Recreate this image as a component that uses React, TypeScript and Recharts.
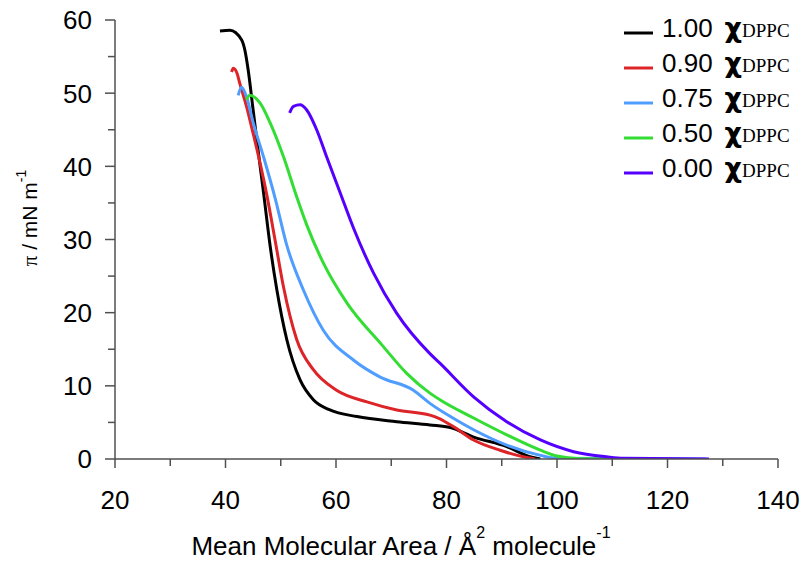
import { LineChart, Line, XAxis, YAxis, Legend } from "recharts";

// pressure-area isotherms
const area100 = [39.0, 40.8, 42.9, 43.5, 44.1, 45.0, 45.9, 46.9, 48.1, 49.3, 51.1, 53.5, 55.9, 58.9, 63.8, 71.0, 77.0, 80.7, 84.9, 90.9, 95.1, 97.0];
const pi100 = [58.5, 58.6, 57.3, 55.9, 53.2, 47.7, 42.2, 36.3, 29.0, 23.1, 16.3, 10.8, 8.1, 6.7, 5.8, 5.1, 4.65, 4.3, 3.0, 1.7, 0.3, 0.0];

const area90 = [41.1, 41.4, 42.1, 42.6, 43.8, 45.0, 46.3, 47.5, 49.0, 50.5, 52.9, 55.9, 60.1, 65.6, 71.0, 77.0, 78.5, 81.3, 84.9, 89.7, 93.9, 96.0];
const pi90 = [52.9, 53.4, 52.7, 51.3, 48.2, 44.5, 40.3, 36.0, 29.8, 23.5, 16.3, 12.2, 9.4, 7.8, 6.7, 6.0, 5.6, 4.4, 2.6, 1.2, 0.3, 0.0];

const area75 = [42.3, 42.9, 43.8, 45.0, 47.0, 49.0, 51.1, 54.1, 57.7, 63.2, 68.0, 74.0, 77.0, 80.7, 84.9, 90.9, 97.0, 100.0, 127.0];
const pi75 = [49.7, 50.8, 49.5, 46.0, 41.0, 35.6, 29.2, 23.1, 17.6, 13.5, 11.2, 9.4, 7.6, 5.8, 4.0, 1.9, 0.5, 0.1, 0.0];

const area50 = [43.8, 44.4, 46.3, 48.1, 50.5, 52.9, 54.7, 57.7, 62.0, 68.3, 72.8, 77.0, 78.8, 84.9, 90.9, 97.0, 100.0, 104.0, 113.0];
const pi50 = [49.1, 49.7, 48.6, 45.9, 41.3, 35.8, 32.0, 26.8, 21.3, 15.6, 11.7, 9.0, 8.1, 5.6, 3.3, 1.2, 0.4, 0.05, 0.0];

const area0 = [51.6, 52.3, 53.5, 54.7, 56.5, 58.3, 60.7, 63.2, 66.8, 71.0, 77.0, 78.8, 84.9, 90.9, 97.0, 103.0, 109.0, 112.0, 127.5];
const pi0 = [47.3, 48.2, 48.4, 47.7, 45.0, 41.3, 36.5, 31.5, 25.4, 19.9, 14.4, 13.1, 8.5, 5.1, 2.6, 1.0, 0.3, 0.1, 0.0];

const fractions = ["1.00", "0.90", "0.75", "0.50", "0.00"];
const colors = ["#000000", "#dd2428", "#4f9dff", "#33dd33", "#5500ff"];

const xTicks = [20, 30, 40, 50, 60, 70, 80, 90, 100, 110, 120, 130, 140];
const yTicks = [0, 5, 10, 15, 20, 25, 30, 35, 40, 45, 50, 55, 60];

const toPoints = (xs: number[], ys: number[]) => xs.map((x, i) => ({ area: x, pi: ys[i] }));

const series = [
  toPoints(area100, pi100),
  toPoints(area90, pi90),
  toPoints(area75, pi75),
  toPoints(area50, pi50),
  toPoints(area0, pi0),
].map((data, i) => ({ name: fractions[i], color: colors[i], data }));

const FONT = "'Liberation Sans', Arial, sans-serif";
const AXIS = "#505050";

const XTick = (props: any) => {
  const { x, y, payload } = props;
  const major = payload.value % 20 === 0;
  return (
    <g>
      <line x1={x} y1={y} x2={x} y2={y + (major ? 9 : 7)} stroke={AXIS} strokeWidth={1.5} />
      {major && (
        <text x={x} y={y + 50} textAnchor="middle" fontSize={26} fontFamily={FONT} fill="#000">
          {payload.value}
        </text>
      )}
    </g>
  );
};

const YTick = (props: any) => {
  const { x, y, payload } = props;
  const major = payload.value % 10 === 0;
  return (
    <g>
      <line x1={x} y1={y} x2={x - (major ? 10 : 7)} y2={y} stroke={AXIS} strokeWidth={1.5} />
      {major && (
        <text x={x - 23} y={y} dy="0.36em" textAnchor="end" fontSize={26} fontFamily={FONT} fill="#000">
          {payload.value}
        </text>
      )}
    </g>
  );
};

const XTitle = () => (
  <text x={401} y={555} textAnchor="middle" fontSize={26} fontFamily={FONT} fill="#000">
    Mean Molecular Area / Å
    <tspan dy={-17} fontSize={16}>2</tspan>
    <tspan dy={17}> molecule</tspan>
    <tspan dy={-17} fontSize={16}>-1</tspan>
  </text>
);

const YTitle = () => (
  <text transform="translate(37,218) rotate(-90)" textAnchor="middle" fontSize={21} fontFamily={FONT} fill="#000">
    <tspan fontFamily="'Liberation Serif', serif">π</tspan>
    <tspan> / mN m</tspan>
    <tspan dy={-11} fontSize={14}>-1</tspan>
  </text>
);

const LegendBox = () => (
  <svg width={185} height={180} style={{ display: "block" }}>
    {series.map((s, i) => (
      <g key={s.name}>
        <line x1={4} x2={33} y1={23 + 35 * i} y2={23 + 35 * i} stroke={s.color} strokeWidth={3} />
        <text x={42} y={27 + 35 * i} fontSize={26} fontFamily={FONT} fill="#000">
          {s.name}
          <tspan dx={12} fontFamily="'DejaVu Sans', sans-serif" fontWeight="bold" fontSize={27}>χ</tspan>
          <tspan fontFamily="'Liberation Serif', serif" fontSize={19}>DPPC</tspan>
        </text>
      </g>
    ))}
  </svg>
);

const App = () => {
  return (
    <div style={{ position: "absolute", left: 0, top: 0, background: "#fff" }}>
      <LineChart width={803} height={563} margin={{ top: 20, right: 25, bottom: 44, left: 55 }}>
        <XAxis
          type="number"
          dataKey="area"
          domain={[20, 140]}
          ticks={xTicks}
          interval={0}
          height={60}
          tickSize={0}
          tickMargin={0}
          tickLine={false}
          tick={XTick}
          axisLine={{ stroke: AXIS, strokeWidth: 1.5 }}
          allowDataOverflow
          label={XTitle}
        />
        <YAxis
          type="number"
          dataKey="pi"
          domain={[0, 60]}
          ticks={yTicks}
          interval={0}
          width={60}
          tickSize={0}
          tickMargin={0}
          tickLine={false}
          tick={YTick}
          axisLine={{ stroke: AXIS, strokeWidth: 1.5 }}
          allowDataOverflow
          label={YTitle}
        />
        <Legend
          layout="horizontal"
          verticalAlign="middle"
          align="center"
          content={LegendBox}
          wrapperStyle={{ left: 620, top: 10, width: 185, height: 180 }}
        />
        {series.map((s) => (
          <Line
            key={s.name}
            data={s.data}
            dataKey="pi"
            name={s.name}
            type="monotone"
            stroke={s.color}
            strokeWidth={3}
            dot={false}
            activeDot={false}
            isAnimationActive={false}
          />
        ))}
      </LineChart>
    </div>
  );
};

export default App;
